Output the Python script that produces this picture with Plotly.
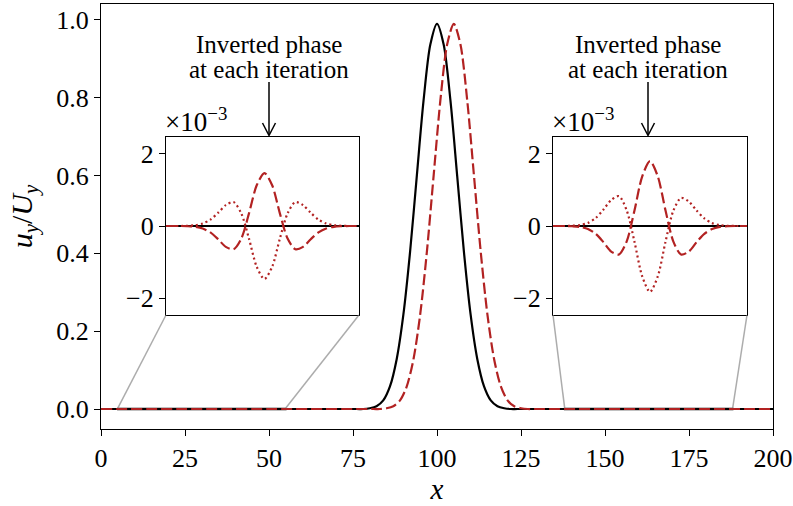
import plotly.graph_objects as go

# ---------------- data ----------------
# main panel: black pulse (centre ~100) and red dashed pulse (centre ~105)
black_x = [0, 76, 78, 80, 82, 84, 86, 88, 90, 92, 94, 96, 98, 100, 102, 104, 106, 108, 110,
           112, 114, 116, 118, 120, 122, 124, 200]
black_y = [0, 0, 0.0, 0.002, 0.007, 0.022, 0.058, 0.128, 0.243, 0.405, 0.600, 0.793, 0.936,
           0.990, 0.936, 0.793, 0.600, 0.405, 0.243, 0.128, 0.058, 0.022, 0.007, 0.002, 0.0, 0, 0]
red_x = [0, 81, 83, 85, 87, 89, 91, 93, 95, 97, 99, 101, 103, 105, 107, 109, 111, 113, 115,
         117, 119, 121, 123, 125, 127, 129, 200]
red_y = [0, 0, 0.0, 0.002, 0.007, 0.022, 0.058, 0.128, 0.243, 0.405, 0.600, 0.793, 0.936,
         0.990, 0.936, 0.793, 0.600, 0.405, 0.243, 0.128, 0.058, 0.022, 0.007, 0.002, 0.0, 0, 0]

# left inset (x in 5..55), values in units of 1e-3
inL_x = [5, 8.5, 10.5, 12.5, 14.5, 16.5, 18.5, 20.5, 22.5, 24.5, 26.5, 28.5, 30.5, 32.5, 34.5,
         36.5, 38.5, 40.5, 42.5, 44.5, 46.5, 48.5, 50.5, 52.5, 55]
inL_dash = [0, 0, -0.006, -0.022, -0.069, -0.178, -0.366, -0.58, -0.645, -0.35, 0.35, 1.13, 1.47,
            1.13, 0.35, -0.35, -0.645, -0.58, -0.366, -0.178, -0.069, -0.022, -0.006, 0, 0]
inL_dot = [0, 0, 0.006, 0.022, 0.069, 0.178, 0.366, 0.58, 0.665, 0.35, -0.35, -1.13, -1.47,
           -1.13, -0.35, 0.35, 0.665, 0.58, 0.366, 0.178, 0.069, 0.022, 0.006, 0, 0]
inL_black_x = [5, 55]
inL_black_y = [0, 0]

# right inset (x in 138..188), values in units of 1e-3
inR_x = [138, 141, 143, 145, 147, 149, 151, 153, 155, 157, 159, 161, 163, 165, 167, 169, 171,
         173, 175, 177, 179, 181, 183, 185, 188]
inR_dash = [0, 0, -0.007, -0.026, -0.084, -0.218, -0.448, -0.71, -0.79, -0.425, 0.43, 1.38, 1.80,
            1.38, 0.43, -0.425, -0.79, -0.71, -0.448, -0.218, -0.084, -0.026, -0.007, 0, 0]
inR_dot = [0, 0, 0.007, 0.027, 0.086, 0.221, 0.456, 0.721, 0.83, 0.432, -0.437, -1.40, -1.83,
           -1.40, -0.437, 0.42, 0.78, 0.68, 0.43, 0.21, 0.08, 0.025, 0.006, 0, 0]
inR_black_x = [138, 188]
inR_black_y = [0, 0]

main_xticks = [0, 25, 50, 75, 100, 125, 150, 175, 200]
main_yticks = [0.0, 0.2, 0.4, 0.6, 0.8, 1.0]
inset_yticks = [-2, 0, 2]
note_line1 = "Inverted phase"
note_line2 = "at each iteration"

# ---------------- layout geometry ----------------
W, H = 793, 506
L, R, T, B = 101, 773, 4, 429          # plot-area pixel box


def px(x):
    return (x - L) / (R - L)


def py(y):
    return (B - y) / (B - T)


YMIN, YMAX = -0.0514, 1.041
XMIN, XMAX = 0, 200
IN_Y = 2.47
insL_dom_x = [px(166), px(359)]
insR_dom_x = [px(553), px(747)]
ins_dom_y = [py(315), py(137)]

RED = "#B22222"
FONT = "Liberation Serif, 'Times New Roman', 'DejaVu Serif', serif"
LW = 2.2
TICKSIZE = 26

fig = go.Figure()

# main traces
fig.add_trace(go.Scatter(x=black_x, y=black_y, mode="lines", line=dict(color="black", width=LW, shape="spline", smoothing=0.8),
                         xaxis="x", yaxis="y", showlegend=False))
fig.add_trace(go.Scatter(x=red_x, y=red_y, mode="lines", line=dict(color=RED, width=LW, dash="11px,4px", shape="spline", smoothing=0.8),
                         xaxis="x", yaxis="y", showlegend=False))

# inset traces
for xs, bx, by, dash_y, dot_y, ax in [(inL_x, inL_black_x, inL_black_y, inL_dash, inL_dot, "2"),
                                      (inR_x, inR_black_x, inR_black_y, inR_dash, inR_dot, "3")]:
    fig.add_trace(go.Scatter(x=bx, y=by, mode="lines", line=dict(color="black", width=LW),
                             xaxis="x" + ax, yaxis="y" + ax, showlegend=False))
    fig.add_trace(go.Scatter(x=xs, y=dot_y, mode="lines", line=dict(color=RED, width=LW, dash="2px,3px", shape="spline", smoothing=0.8),
                             xaxis="x" + ax, yaxis="y" + ax, showlegend=False))
    fig.add_trace(go.Scatter(x=xs, y=dash_y, mode="lines", line=dict(color=RED, width=LW, dash="11px,4px", shape="spline", smoothing=0.8),
                             xaxis="x" + ax, yaxis="y" + ax, showlegend=False))

axis_common = dict(showline=True, linecolor="black", linewidth=1.2, mirror=True, ticks="outside",
                   ticklen=6, tickwidth=1.2, tickcolor="black", showgrid=False, zeroline=False,
                   tickfont=dict(family=FONT, size=TICKSIZE, color="black"))

fig.update_layout(
    width=W, height=H,
    font=dict(family=FONT, color="black"),
    margin=dict(l=L, r=W - R, t=T, b=H - B, autoexpand=False),
    paper_bgcolor="white", plot_bgcolor="white",
    xaxis=dict(domain=[0, 1], range=[XMIN, XMAX], tickvals=main_xticks, anchor="y",
               title=dict(text="<i>x</i>", font=dict(family=FONT, size=29, color="black"), standoff=6),
               **axis_common),
    yaxis=dict(domain=[0, 1], range=[YMIN, YMAX], tickvals=main_yticks, tickformat=".1f", anchor="x",
               title=dict(text="<i>u<sub>y</sub></i>/<i>U<sub>y</sub></i>", font=dict(family=FONT, size=30, color="black"), standoff=14),
               **axis_common),
    xaxis2=dict(domain=insL_dom_x, range=[5, 55], anchor="y2", showticklabels=False,
                **{**axis_common, "ticks": ""}),
    yaxis2=dict(domain=ins_dom_y, range=[-IN_Y, IN_Y], tickvals=inset_yticks, anchor="x2", **axis_common),
    xaxis3=dict(domain=insR_dom_x, range=[138, 188], anchor="y3", showticklabels=False,
                **{**axis_common, "ticks": ""}),
    yaxis3=dict(domain=ins_dom_y, range=[-IN_Y, IN_Y], tickvals=inset_yticks, anchor="x3", **axis_common),
)

GRAY = "rgba(128,128,128,0.65)"
shapes = []
ins_h = IN_Y * 1e-3
for (x0, x1), dom in [((5, 55), insL_dom_x), ((138, 188), insR_dom_x)]:
    shapes.append(dict(type="rect", xref="x", yref="y", x0=x0, x1=x1, y0=-ins_h, y1=ins_h,
                       line=dict(color=GRAY, width=1.5), layer="below"))
    ytop_paper = (ins_h - YMIN) / (YMAX - YMIN)
    for xd, xp in [(x0, dom[0]), (x1, dom[1])]:
        shapes.append(dict(type="line", xref="paper", yref="paper",
                           x0=(xd - XMIN) / (XMAX - XMIN), y0=ytop_paper, x1=xp, y1=ins_dom_y[0],
                           line=dict(color=GRAY, width=1.5)))

annotations = []
for cx in (269, 648):
    # arrow shaft and open head
    shapes.append(dict(type="line", xref="paper", yref="paper", x0=px(cx), x1=px(cx), y0=py(82), y1=py(135.5),
                       line=dict(color="black", width=1.5)))
    shapes.append(dict(type="line", xref="paper", yref="paper", x0=px(cx - 6.5), x1=px(cx), y0=py(123), y1=py(135.5),
                       line=dict(color="black", width=1.5)))
    shapes.append(dict(type="line", xref="paper", yref="paper", x0=px(cx + 6.5), x1=px(cx), y0=py(123), y1=py(135.5),
                       line=dict(color="black", width=1.5)))
    annotations.append(dict(text=note_line1, xref="paper", yref="paper", x=px(cx), y=py(45), xanchor="center",
                            yanchor="middle", showarrow=False, font=dict(family=FONT, size=25, color="black")))
    annotations.append(dict(text=note_line2, xref="paper", yref="paper", x=px(cx), y=py(70), xanchor="center",
                            yanchor="middle", showarrow=False, font=dict(family=FONT, size=25, color="black")))

for dom in (insL_dom_x, insR_dom_x):
    annotations.append(dict(text="×10<sup>−3</sup>", xref="paper", yref="paper", x=dom[0] - 0.004, y=py(139),
                            xanchor="left", yanchor="bottom", showarrow=False,
                            font=dict(family=FONT, size=27, color="black")))

fig.update_layout(shapes=shapes, annotations=annotations)
fig.write_html("out.html")
